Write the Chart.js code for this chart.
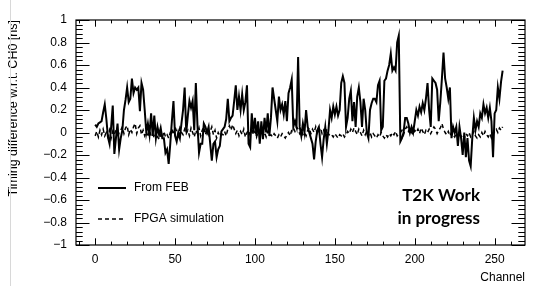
<html>
<head>
<title>Timing difference per channel</title>
<script src="https://cdn.jsdelivr.net/npm/chart.js/dist/chart.umd.min.js"></script>
<style>
  body { margin: 0; background: #fff; }
  canvas { display: block; }
</style>
</head>
<body>
<canvas id="myChart" width="543" height="286"></canvas>
<script>
// timing difference w.r.t. CH0 [ns], one value per channel 0..255
var feb = [
  0.07, 0.05, 0.08, 0.09, 0.1, 0.18, 0.25, 0.12, -0.04, -0.1, 0.05, 0.24, -0.19, -0.05, 0.08, -0.15,
  -0.05, 0.02, 0.2, 0.29, 0.4, 0.27, 0.3, 0.48, 0.35, 0.4, 0.38, 0.4, 0.19, 0.44, 0.38, 0.2,
  0.0, 0.08, -0.02, 0.17, -0.03, 0.15, -0.05, 0.05, -0.02, 0.04, -0.05, -0.05, -0.18, -0.15, -0.28, -0.1,
  0.1, 0.28, -0.03, -0.08, 0.0, -0.05, 0.08, 0.2, 0.4, 0.0, 0.15, 0.28, 0.22, 0.28, 0.02, 0.44,
  0.07, -0.18, -0.1, -0.1, 0.08, 0.05, 0.0, 0.05, -0.1, -0.25, -0.1, -0.08, -0.22, -0.15, -0.12, 0.01,
  0.03, 0.05, 0.12, 0.3, 0.1, 0.13, 0.15, 0.28, 0.42, 0.2, 0.32, 0.2, 0.34, 0.2, 0.27, 0.42,
  -0.1, -0.13, 0.17, 0.0, 0.13, -0.03, 0.1, -0.1, 0.1, -0.06, 0.13, 0.0, 0.17, -0.03, 0.13, 0.4,
  0.3, 0.2, 0.1, 0.32, 0.2, 0.25, 0.16, 0.28, 0.1, 0.35, 0.4, 0.47, 0.05, 0.1, 0.05, 0.67,
  0.05, -0.03, 0.08, 0.0, 0.2, 0.05, 0.0, -0.05, -0.1, -0.24, -0.08, 0.02, 0.05, -0.1, -0.22, -0.06,
  0.05, -0.1, 0.02, 0.2, 0.13, 0.23, 0.16, 0.23, 0.15, 0.2, 0.44, 0.5, 0.44, 0.05, 0.13, 0.3,
  0.37, 0.1, 0.27, 0.05, 0.32, 0.4, 0.27, 0.05, 0.3, 0.2, 0.0, -0.05, 0.2, 0.26, 0.3, 0.3,
  0.27, 0.42, 0.46, 0.02, 0.05, 0.46, 0.48, 0.55, 0.6, 0.7, 0.55, 0.58, 0.55, 0.8, 0.86, -0.08,
  -0.05, 0.0, 0.13, 0.13, 0.08, 0.0, 0.05, 0.0, 0.1, 0.2, 0.15, 0.23, 0.18, 0.26, 0.2, 0.3,
  0.44, 0.2, 0.05, 0.48, 0.46, 0.44, 0.38, 0.1, 0.27, 0.48, 0.71, 0.48, 0.4, 0.3, 0.4, -0.05,
  0.05, 0.0, 0.05, -0.12, 0.05, -0.05, -0.2, 0.0, -0.22, -0.05, -0.25, -0.3, -0.05, 0.13, 0.02, 0.1,
  0.05, 0.17, 0.13, 0.25, 0.17, 0.22, 0.13, 0.22, 0.1, -0.22, 0.17, 0.2, 0.4, 0.3, 0.45, 0.55
];
var fpga = [
  -0.03, 0.01, -0.04, 0.02, -0.02, 0.03, -0.03, 0.0, -0.04, 0.02, -0.05, 0.01, -0.02, 0.03, -0.04, 0.0,
  0.02, 0.05, -0.01, 0.04, 0.06, -0.02, 0.03, 0.0, 0.05, 0.08, -0.01, 0.04, 0.06, -0.02, 0.02, -0.03,
  0.01, -0.04, 0.02, -0.03, -0.01, -0.05, 0.0, -0.04, -0.06, -0.02, -0.05, 0.01, -0.04, -0.02, -0.05, 0.0,
  0.03, -0.02, 0.05, 0.01, -0.03, 0.04, 0.0, -0.02, 0.03, -0.01, 0.02, -0.03, 0.04, 0.0, -0.04, 0.02,
  -0.01, 0.04, -0.03, 0.02, 0.05, -0.02, 0.03, -0.04, 0.01, 0.05, -0.02, 0.02, -0.05, 0.0, -0.03, -0.01,
  -0.02, 0.01, -0.03, 0.03, 0.06, 0.02, 0.07, 0.03, -0.01, 0.02, -0.03, 0.01, -0.02, 0.03, -0.04, 0.0,
  0.02, -0.03, 0.04, -0.02, 0.01, -0.04, 0.02, -0.01, 0.03, -0.03, 0.0, -0.04, 0.01, -0.03, -0.02, -0.04,
  -0.01, -0.03, -0.05, -0.02, -0.04, -0.01, -0.03, -0.05, -0.02, 0.0, -0.03, 0.02, 0.04, 0.01, 0.05, 0.03,
  -0.01, 0.02, -0.02, 0.0, -0.03, 0.02, 0.04, -0.01, 0.03, 0.0, 0.05, -0.02, 0.01, 0.04, -0.01, 0.02,
  -0.02, 0.03, -0.01, -0.03, -0.02, -0.04, -0.01, -0.03, -0.05, -0.02, -0.03, -0.01, -0.04, -0.02, 0.01, -0.01,
  0.03, 0.0, 0.04, 0.01, -0.02, 0.03, 0.0, -0.03, 0.02, -0.02, 0.01, -0.03, 0.0, -0.04, -0.01, -0.03,
  -0.05, -0.02, -0.04, 0.0, -0.03, -0.05, -0.02, -0.04, -0.01, -0.03, 0.0, -0.02, 0.01, -0.03, -0.01, 0.0,
  0.02, -0.02, 0.03, 0.05, 0.01, 0.04, 0.0, -0.02, 0.02, 0.0, 0.03, -0.01, 0.04, 0.01, -0.02, 0.02,
  0.0, 0.03, -0.01, 0.02, 0.05, 0.03, -0.01, 0.02, 0.04, 0.08, 0.03, 0.0, -0.02, 0.01, -0.03, 0.0,
  -0.02, -0.04, -0.01, -0.03, 0.0, -0.04, -0.02, -0.05, -0.01, -0.03, 0.0, -0.04, -0.02, 0.01, -0.03, -0.05,
  -0.02, -0.04, 0.0, -0.03, 0.01, -0.02, -0.04, -0.01, -0.05, -0.02, 0.01, 0.03, 0.0, 0.04, 0.02, 0.05
];
var xTicks = [0, 50, 100, 150, 200, 250];
var yTicks = [-1, -0.8, -0.6, -0.4, -0.2, 0, 0.2, 0.4, 0.6, 0.8, 1];
var legendLabels = ["From FEB", "FPGA simulation"];
var stampLines = ["T2K Work", "in progress"];

var channels = feb.map((v, i) => i);
var FONT = "'Liberation Sans', Arial, sans-serif";

function fmtY(v) {
    var r = Math.round(v * 10) / 10;
    if (r === 0) return "0";
    return (r < 0 ? "\u2212" : "") + String(Math.abs(r));
}

// ROOT-like frame with inner ticks on all four sides
const frameTicks = {
    id: 'frameTicks',
    afterDatasetsDraw(chart) {
        const {ctx, chartArea: a, scales: {x, y}} = chart;
        ctx.save();
        ctx.strokeStyle = '#000';
        ctx.lineWidth = 1.2;
        ctx.strokeRect(a.left, a.top, a.right - a.left, a.bottom - a.top);
        ctx.lineWidth = 1;
        ctx.beginPath();
        for (var v = -10; v <= 260; v += 10) {
            var px = Math.round(x.getPixelForValue(v)) + 0.5;
            var len = v % 50 === 0 ? 6.7 : 3.4;
            ctx.moveTo(px, a.bottom); ctx.lineTo(px, a.bottom - len);
            ctx.moveTo(px, a.top); ctx.lineTo(px, a.top + len);
        }
        for (var k = -25; k <= 25; k++) {
            var py = Math.round(y.getPixelForValue(k * 0.04)) + 0.5;
            var l2 = k % 5 === 0 ? 13.5 : 6.7;
            ctx.moveTo(a.left, py); ctx.lineTo(a.left + l2, py);
            ctx.moveTo(a.right, py); ctx.lineTo(a.right - l2, py);
        }
        ctx.stroke();
        ctx.restore();
    },
    afterDraw(chart) {
        const ctx = chart.ctx;
        ctx.save();
        // legend
        ctx.strokeStyle = '#000';
        ctx.lineWidth = 2;
        ctx.beginPath(); ctx.moveTo(98, 188); ctx.lineTo(126, 188); ctx.stroke();
        ctx.lineWidth = 1.5;
        ctx.setLineDash([4, 3]);
        ctx.beginPath(); ctx.moveTo(98, 219); ctx.lineTo(126, 219); ctx.stroke();
        ctx.setLineDash([]);
        ctx.fillStyle = '#000';
        ctx.font = "12px " + FONT;
        ctx.textBaseline = 'middle';
        ctx.fillText(legendLabels[0], 134, 188);
        ctx.fillText(legendLabels[1], 134, 219);
        // work in progress stamp
        ctx.font = "bold 17px Lato, 'Open Sans', sans-serif";
        ctx.textAlign = 'right';
        ctx.fillText(stampLines[0], 480, 196);
        ctx.fillText(stampLines[1], 480, 219);
        // thin page edge on the left
        ctx.strokeStyle = '#d8d8d8';
        ctx.lineWidth = 1;
        ctx.beginPath(); ctx.moveTo(10.5, 0); ctx.lineTo(10.5, 286); ctx.stroke();
        ctx.restore();
    }
};

const ctx = document.getElementById('myChart').getContext('2d');
const myChart = new Chart(ctx, {
    type: 'line',
    data: {
        datasets: [
            {
                label: legendLabels[0],
                data: channels.map((c, i) => ({x: c, y: feb[i]})),
                borderColor: '#000',
                borderWidth: 2,
                pointRadius: 0,
                tension: 0,
            },
            {
                label: legendLabels[1],
                data: channels.map((c, i) => ({x: c, y: fpga[i]})),
                borderColor: '#000',
                borderWidth: 1.5,
                borderDash: [4, 3],
                pointRadius: 0,
                tension: 0,
            }
        ]
    },
    options: {
        responsive: false,
        animation: false,
        layout: { padding: { top: 20, right: 18, left: 0, bottom: 0 } },
        plugins: { legend: { display: false }, tooltip: { enabled: false } },
        scales: {
            x: {
                type: 'linear',
                min: -12,
                max: 269,
                afterBuildTicks: s => { s.ticks = xTicks.map(v => ({value: v})); },
                afterFit: s => { s.height = 41; },
                grid: { display: false, drawTicks: false },
                border: { display: false },
                ticks: { color: '#000', font: { family: FONT, size: 12 }, padding: 7, maxRotation: 0 },
                title: { display: true, text: 'Channel', align: 'end', color: '#000',
                         font: { family: FONT, size: 12 }, padding: { top: 0, bottom: 1 } }
            },
            y: {
                min: -1,
                max: 1,
                afterBuildTicks: s => { s.ticks = yTicks.map(v => ({value: v})); },
                afterFit: s => { s.width = 76; },
                grid: { display: false, drawTicks: false },
                border: { display: false },
                ticks: { color: '#000', font: { family: FONT, size: 12 }, padding: 9, callback: v => fmtY(v) },
                title: { display: true, text: 'Timing difference w.r.t. CH0 [ns]', align: 'end', color: '#000',
                         font: { family: FONT, size: 12.5 }, padding: { top: 6, bottom: 0 } }
            }
        }
    },
    plugins: [frameTicks]
});
</script>
</body>
</html>
